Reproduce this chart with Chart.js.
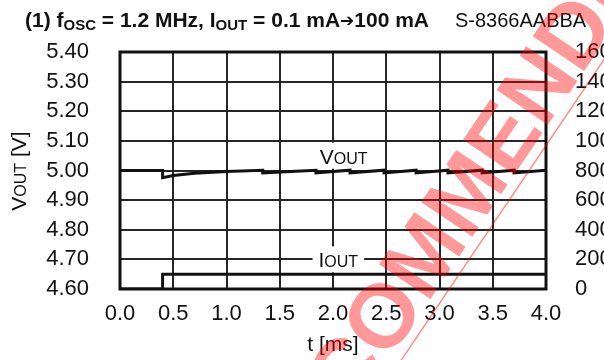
<!DOCTYPE html>
<html>
<head>
<meta charset="utf-8">
<script src="https://cdn.jsdelivr.net/npm/chart.js@4.4.1/dist/chart.umd.min.js"></script>
<style>
  html, body { margin: 0; padding: 0; background: #fff; overflow: hidden; }
  #wrap { width: 660px; height: 360px; }
</style>
</head>
<body>
<div id="wrap"><canvas id="chart" width="660" height="360"></canvas></div>
<script>
// time axis [ms] and output voltage [V]
const vTime = [0, 0.4, 0.4, 0.5, 0.7, 1.0, 1.34, 1.34, 1.84, 1.84, 2.16, 2.16, 2.48, 2.48,
  2.78, 2.78, 3.08, 3.08, 3.40, 3.40, 3.70, 3.70, 4.0];
const vOut = [5.000, 5.000, 4.976, 4.983, 4.991, 4.997, 5.001, 4.992, 5.001, 4.992, 5.001, 4.992, 5.001, 4.992,
  5.001, 4.992, 5.001, 4.992, 5.001, 4.992, 5.001, 4.992, 5.001];
// load current [mA]
const iTime = [0, 0.4, 0.4, 4.0];
const iOut = [0.1, 0.1, 100, 100];

const xTicks = [0, 0.5, 1.0, 1.5, 2.0, 2.5, 3.0, 3.5, 4.0];
const vTicks = [4.6, 4.7, 4.8, 4.9, 5.0, 5.1, 5.2, 5.3, 5.4];
const iTicks = [0, 200, 400, 600, 800, 1000, 1200, 1400, 1600];

const FONT = "'Liberation Sans', Arial, Helvetica, sans-serif";
const INK = '#111';

function setFont(ctx, r) {
  ctx.font = (r.bold ? 'bold ' : '') + r.size + 'px ' + (r.family || FONT);
}

function runsWidth(ctx, runs) {
  let w = 0;
  runs.forEach(r => { setFont(ctx, r); w += ctx.measureText(r.t).width; });
  return w;
}

function drawRuns(ctx, x, y, runs) {
  runs.forEach(r => {
    setFont(ctx, r);
    ctx.fillText(r.t, x, y + (r.dy || 0));
    x += ctx.measureText(r.t).width;
  });
}

const sub = (name, big, small) => [{ t: name, size: big }, { t: small, size: Math.round(big * 0.75) }];

const decor = {
  id: 'decor',
  beforeDatasetsDraw(chart) {
    const { ctx, chartArea: a, scales } = chart;
    ctx.save();
    ctx.strokeStyle = INK;
    ctx.lineWidth = 3;
    ctx.strokeRect(a.left, a.top, a.right - a.left, a.bottom - a.top);

    ctx.textBaseline = 'alphabetic';

    // curve labels with white backing
    const labels = [
      { runs: sub('V', 21, 'OUT'), cx: scales.x.getPixelForValue(2.1), cy: scales.y.getPixelForValue(5.05) },
      { runs: sub('I', 21, 'OUT'), cx: scales.x.getPixelForValue(2.05), cy: scales.y2.getPixelForValue(200) }
    ];
    labels.forEach(l => {
      const w = runsWidth(ctx, l.runs);
      ctx.fillStyle = '#fff';
      ctx.fillRect(l.cx - w / 2 - 6, l.cy - 13, w + 12, 26);
      ctx.fillStyle = INK;
      drawRuns(ctx, l.cx - w / 2, l.cy + 8, l.runs);
    });
    ctx.restore();
  },
  afterDraw(chart) {
    const { ctx } = chart;
    ctx.save();
    ctx.fillStyle = INK;
    ctx.textBaseline = 'alphabetic';

    // heading
    drawRuns(ctx, 25, 27, [
      { t: '(1) f', size: 21, bold: true },
      { t: 'OSC', size: 15, bold: true, dy: 3 },
      { t: ' = 1.2 MHz, I', size: 21, bold: true },
      { t: 'OUT', size: 15, bold: true, dy: 3 },
      { t: ' = 0.1 mA', size: 21, bold: true },
      { t: '\u2794', size: 17, bold: true, family: "'DejaVu Sans', sans-serif", dy: -1 },
      { t: '100 mA', size: 21, bold: true }
    ]);
    drawRuns(ctx, 455, 27, [{ t: 'S-8366AABBA', size: 20 }]);

    // rotated axis titles
    const leftTitle = [...sub('V', 21, 'OUT'), { t: ' [V]', size: 21 }];
    ctx.save();
    ctx.translate(26, 171);
    ctx.rotate(-Math.PI / 2);
    drawRuns(ctx, -runsWidth(ctx, leftTitle) / 2, 0, leftTitle);
    ctx.restore();

    const rightTitle = [...sub('I', 21, 'OUT'), { t: ' [mA]', size: 21 }];
    ctx.save();
    ctx.translate(640, 171);
    ctx.rotate(Math.PI / 2);
    drawRuns(ctx, -runsWidth(ctx, rightTitle) / 2, 0, rightTitle);
    ctx.restore();

    // watermark stamp
    ctx.save();
    ctx.translate(381, 315);
    ctx.rotate(-56 * Math.PI / 180);
    ctx.font = 'bold 90px ' + FONT;
    const pre = ctx.measureText('NOT REC').width;
    const oW = ctx.measureText('O').width;
    ctx.fillStyle = 'rgba(255,0,0,0.4)';
    ctx.fillText('NOT RECOMMENDED FOR NEW DESIGN', -(pre + oW / 2), 32);
    ctx.strokeStyle = 'rgba(255,0,0,0.45)';
    ctx.lineWidth = 1.5;
    ctx.beginPath();
    ctx.moveTo(-700, 42);
    ctx.lineTo(700, 42);
    ctx.stroke();
    ctx.restore();

    ctx.restore();
  }
};

const tickFont = { family: FONT, size: 22 };

new Chart(document.getElementById('chart'), {
  type: 'line',
  data: {
    datasets: [
      {
        label: 'VOUT',
        data: vTime.map((t, i) => ({ x: t, y: vOut[i] })),
        yAxisID: 'y',
        borderColor: INK,
        borderWidth: 3,
        pointRadius: 0,
        tension: 0,
        fill: false
      },
      {
        label: 'IOUT',
        data: iTime.map((t, i) => ({ x: t, y: iOut[i] })),
        yAxisID: 'y2',
        borderColor: INK,
        borderWidth: 3,
        pointRadius: 0,
        tension: 0,
        fill: false
      }
    ]
  },
  options: {
    responsive: false,
    animation: false,
    devicePixelRatio: 1,
    layout: { padding: { top: 52, left: 0, right: 0, bottom: 0 } },
    plugins: { legend: { display: false }, tooltip: { enabled: false }, title: { display: false } },
    scales: {
      x: {
        type: 'linear',
        min: 0,
        max: 4,
        afterBuildTicks: s => { s.ticks = xTicks.map(v => ({ value: v })); },
        afterFit: s => { s.height = 71; },
        ticks: { font: tickFont, color: INK, padding: 12, maxRotation: 0, autoSkip: false,
          callback: v => v.toFixed(1) },
        grid: { color: '#262626', lineWidth: 2, drawTicks: false },
        border: { display: false },
        title: { display: true, text: 't [ms]', font: { family: FONT, size: 21 }, color: INK, padding: { top: 0, bottom: 2 } }
      },
      y: {
        position: 'left',
        min: 4.6,
        max: 5.4,
        afterBuildTicks: s => { s.ticks = vTicks.map(v => ({ value: v })); },
        afterFit: s => { s.width = 120; },
        ticks: { font: tickFont, color: INK, padding: 31, autoSkip: false,
          callback: v => v.toFixed(2) },
        grid: { color: '#262626', lineWidth: 2, drawTicks: false },
        border: { display: false }
      },
      y2: {
        position: 'right',
        min: 0,
        max: 1600,
        afterBuildTicks: s => { s.ticks = iTicks.map(v => ({ value: v })); },
        afterFit: s => { s.width = 114; },
        ticks: { font: tickFont, color: INK, padding: 29, autoSkip: false,
          callback: v => String(v) },
        grid: { display: false, drawTicks: false },
        border: { display: false }
      }
    }
  },
  plugins: [decor]
});
</script>
</body>
</html>
